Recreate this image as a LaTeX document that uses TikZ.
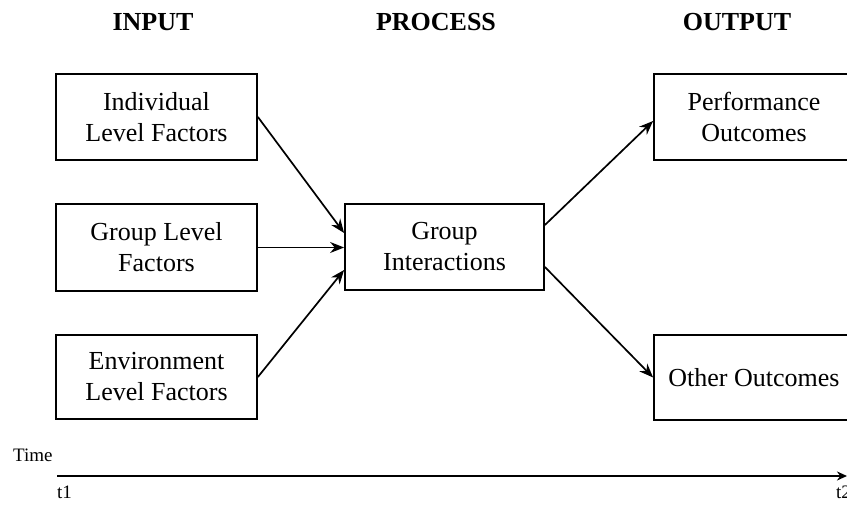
\documentclass[tikz,border=0pt]{standalone}
\usepackage{fontspec}
\setmainfont{Liberation Serif}
\usetikzlibrary{arrows.meta}
\begin{document}
\begin{tikzpicture}[x=1pt,y=-1pt,
  box/.style={draw, line width=1.8pt, minimum width=201pt, inner sep=0pt, align=center, font=\fontsize{26}{31}\selectfont},
  head/.style={font=\fontsize{26}{31}\selectfont\bfseries},
  arr/.style={line width=1.7pt, -{Stealth[length=14pt,width=11pt]}},
  lbl/.style={font=\fontsize{19}{22}\selectfont, inner sep=0pt}]
\useasboundingbox (0,0) rectangle (847,510);
\node[head] (hin) at (153,22) {INPUT};
\node[head] (hpr) at (436,22) {PROCESS};
\node[head] (hout) at (737,22) {OUTPUT};
\node[box, minimum height=86pt] (ind) at (156.5,117) {Individual\\Level Factors};
\node[box, minimum height=87pt] (grp) at (156.5,247.5) {Group Level\\Factors};
\node[box, minimum height=84pt] (env) at (156.5,377) {Environment\\Level Factors};
\node[box, minimum width=199pt, minimum height=86pt] (gi) at (444.5,247) {Group\\Interactions};
\node[box, minimum width=200pt, minimum height=86pt] (perf) at (754,117) {Performance\\Outcomes};
\node[box, minimum width=200pt, minimum height=85pt] (oth) at (754,377.5) {Other Outcomes};
\draw[arr] (ind.east) -- ([yshift=14pt]gi.west);
\draw[arr] (grp.east) -- (gi.west |- grp.east);
\draw[arr] (env.east) -- ([yshift=-23pt]gi.west);
\draw[arr] ([yshift=22pt]gi.east) -- ([yshift=-4pt]perf.west);
\draw[arr] ([yshift=-20pt]gi.east) -- (oth.west);
\coordinate (ts) at (57,476);
\coordinate (te) at (847,476);
\draw[line width=1.8pt, -{Stealth[length=10pt,width=9pt]}] (ts) -- (te);
\node[lbl, anchor=base west] (time) at (13,462) {Time};
\node[lbl, anchor=base west] (t1) at (57,499) {t1};
\node[lbl, anchor=base west] (t2) at (836,499) {t2};
\end{tikzpicture}
\end{document}
